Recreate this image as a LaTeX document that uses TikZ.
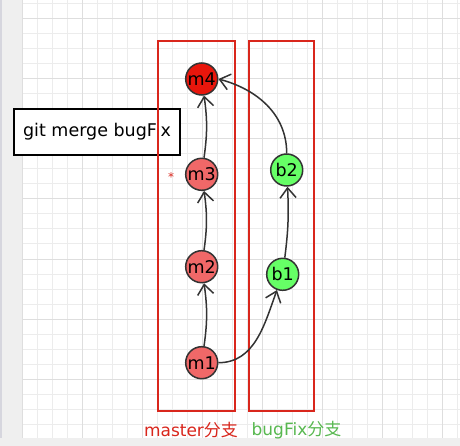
\documentclass[tikz,border=0pt]{standalone}
\usepackage{fontspec}
\setmainfont{DejaVu Sans}
\newfontfamily\cjk{Noto Sans CJK SC}
\usetikzlibrary{arrows.meta}
\definecolor{brred}{RGB}{217,38,28}
\definecolor{brgreen}{RGB}{88,184,80}
\definecolor{hotred}{RGB}{232,22,12}
\definecolor{softred}{RGB}{240,104,104}
\definecolor{litegreen}{RGB}{102,255,102}
\definecolor{edge}{RGB}{51,51,51}
\definecolor{gridminor}{RGB}{236,236,236}
\definecolor{gridmajor}{RGB}{222,222,222}
\definecolor{stripgray}{RGB}{239,239,239}
\definecolor{stripedge}{RGB}{214,214,222}
\tikzset{
  minorline/.style={draw=gridminor, line width=1pt},
  majorline/.style={draw=gridmajor, line width=1pt},
  commit/.style={circle, draw=edge, line width=1.5pt, minimum size=32pt, inner sep=0pt, font=\fontsize{17.5}{20}\selectfont, text=black},
  mcommit/.style={commit, fill=softred},
  headcommit/.style={commit, fill=hotred},
  bcommit/.style={commit, fill=litegreen},
  branchbox/.style={rectangle, draw=brred, line width=2pt, inner sep=0pt},
  link/.style={draw=edge, line width=1.5pt, -{Straight Barb[length=10pt,width=16pt]}},
  cmdbox/.style={rectangle, draw=black, fill=white, line width=2pt, inner sep=0pt, font=\fontsize{17.5}{20}\selectfont},
  branchlabel/.style={font=\fontsize{17}{20}\selectfont, inner sep=0pt}
}
\begin{document}
\begin{tikzpicture}[x=1pt,y=-1pt]
\useasboundingbox (0,0) rectangle (460,446);
\fill[white] (0,0) rectangle (460,446);
% grid
\foreach \k in {0,...,29} \draw[minorline] ({22.5+15*\k},0) -- ({22.5+15*\k},446);
\foreach \k in {0,...,29} \draw[minorline] (0,{4+15*\k}) -- (460,{4+15*\k});
\foreach \k in {0,...,7} \draw[majorline] ({22.5+60*\k},0) -- ({22.5+60*\k},446);
\foreach \k in {0,...,7} \draw[majorline] (0,{19+60*\k}) -- (460,{19+60*\k});
\fill[stripgray] (0,0) rectangle (22,446);
\fill[stripedge] (0,0) rectangle (2,446);
\fill[stripgray] (0,438) rectangle (460,446);
% command box
\node[cmdbox, minimum width=166pt, minimum height=46pt] (cmd) at (97,132) {git merge bugFix};
% branch boxes
\node[branchbox, minimum width=77pt, minimum height=370pt] (mbox) at (196.5,226) {};
\node[branchbox, minimum width=65.5pt, minimum height=370pt] (bbox) at (281.5,226) {};
% commits
\node[headcommit] (m4) at (201.7,79) {m4};
\node[mcommit] (m3) at (201.7,174.3) {m3};
\node[mcommit] (m2) at (201.7,266.7) {m2};
\node[mcommit] (m1) at (201.7,362.7) {m1};
\node[bcommit] (b2) at (286.7,170) {b2};
\node[bcommit] (b1) at (282.7,274.3) {b1};
% star
\node[text=brred, font=\fontsize{12}{13}\selectfont, inner sep=0pt] (star) at (171,177) {*};
% links
\draw[link] (m1) to[bend right=8] (m2);
\draw[link] (m2) to[bend right=8] (m3);
\draw[link] (m3) to[bend right=8] (m4);
\draw[link] (b1) to[bend right=5] (b2);
\draw[link] (m1.east) to[out=0, in=-110] (b1);
\draw[link] (b2.north) to[out=90, in=-15] (m4.east);
% labels
\node[branchlabel, text=brred] (mlabel) at (191,430) {master{\cjk 分支}};
\node[branchlabel, text=brgreen] (blabel) at (296.5,430) {bugFix{\cjk 分支}};
\end{tikzpicture}
\end{document}
